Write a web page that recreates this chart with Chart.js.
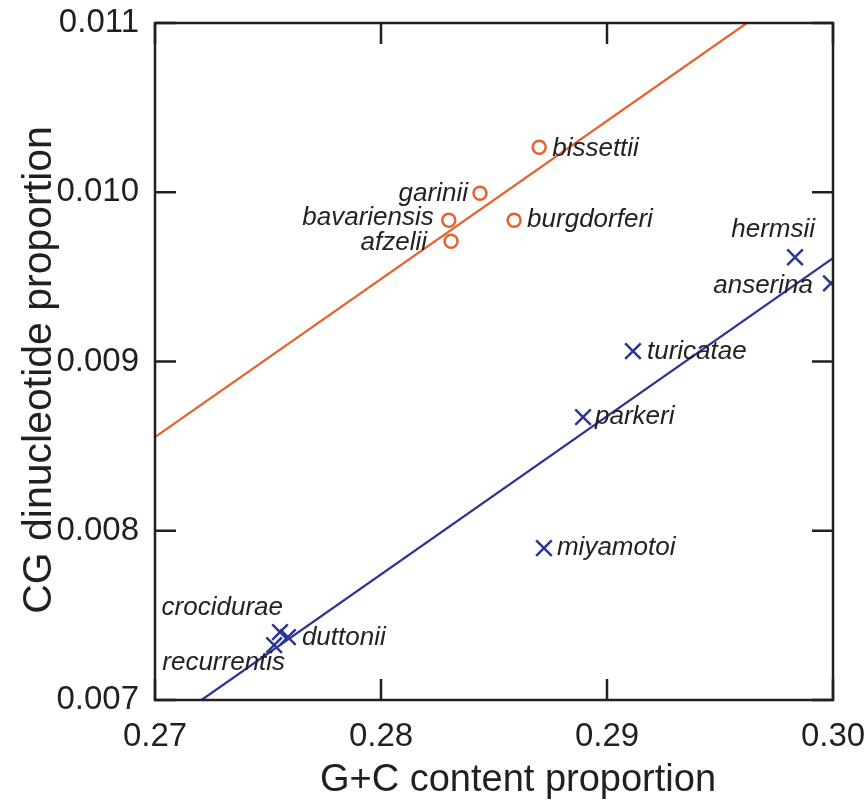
<!DOCTYPE html>
<html>
<head>
<meta charset="utf-8">
<script src="https://cdn.jsdelivr.net/npm/chart.js@4/dist/chart.umd.min.js"></script>
<style>
  html, body { margin: 0; padding: 0; background: #fff; }
  #wrap { width: 867px; height: 804px; }
</style>
</head>
<body>
<div id="wrap"><canvas id="c" width="867" height="804"></canvas></div>
<script>
// ---- data ----
const lymeNames = ['bissettii', 'garinii', 'bavariensis', 'afzelii', 'burgdorferi'];
const lymeGC    = [0.2870, 0.28438, 0.2830, 0.2831, 0.28589];
const lymeCG    = [0.010266, 0.009994, 0.009835, 0.009710, 0.009835];

const rfNames = ['hermsii', 'anserina', 'turicatae', 'parkeri', 'miyamotoi', 'crocidurae', 'duttonii', 'recurrentis'];
const rfGC    = [0.29832, 0.29991, 0.29115, 0.28894, 0.28721, 0.27553, 0.27588, 0.27527];
const rfCG    = [0.009616, 0.009462, 0.009061, 0.008671, 0.007897, 0.007401, 0.007372, 0.007324];

const lymeFitGC = [0.2700, 0.29619];
const lymeFitCG = [0.008553, 0.0110];
const rfFitGC   = [0.27206, 0.3000];
const rfFitCG   = [0.0070, 0.00961];

const xTicks = [0.27, 0.28, 0.29, 0.30];
const yTicks = [0.007, 0.008, 0.009, 0.010, 0.011];

const xTitle = 'G+C content proportion';
const yTitle = 'CG dinucleotide proportion';

// ---- styles / label placement ----
const ORANGE = '#E5622C';
const BLUE = '#2B3594';
const INK = '#231F20';
const FONT = "'Liberation Sans', Arial, Helvetica, sans-serif";

const labelPlace = {
  bissettii:   { dx: 13,  dy: 2,   align: 'left' },
  garinii:     { dx: -12, dy: 1,   align: 'right' },
  bavariensis: { dx: -15, dy: -2,  align: 'right' },
  afzelii:     { dx: -24, dy: 1,   align: 'right' },
  burgdorferi: { dx: 13,  dy: 0,   align: 'left' },
  hermsii:     { dx: 20,  dy: -27, align: 'right' },
  anserina:    { dx: -18, dy: 2,   align: 'right' },
  turicatae:   { dx: 14,  dy: 1,   align: 'left' },
  parkeri:     { dx: 12,  dy: 0,   align: 'left' },
  miyamotoi:   { dx: 13,  dy: 0,   align: 'left' },
  crocidurae:  { dx: 3,   dy: -24, align: 'right' },
  duttonii:    { dx: 14,  dy: 1,   align: 'left' },
  recurrentis: { dx: 11,  dy: 18,  align: 'right' }
};

const toPts = (xs, ys) => xs.map((x, i) => ({ x: x, y: ys[i] }));

const zeroPad = s => { s.paddingLeft = 0; s.paddingRight = 0; s.paddingTop = 0; s.paddingBottom = 0; };

const framePlugin = {
  id: 'frame',
  afterDatasetsDraw(chart) {
    const ctx = chart.ctx;
    const a = chart.chartArea;
    const xs = chart.scales.x, ys = chart.scales.y;
    ctx.save();
    ctx.strokeStyle = INK;
    ctx.lineWidth = 2.5;
    ctx.lineCap = 'butt';
    ctx.strokeRect(a.left, a.top, a.right - a.left, a.bottom - a.top);
    const L = 21;
    ctx.beginPath();
    xTicks.forEach(v => {
      const px = xs.getPixelForValue(v);
      ctx.moveTo(px, a.bottom); ctx.lineTo(px, a.bottom - L);
      ctx.moveTo(px, a.top); ctx.lineTo(px, a.top + L);
    });
    yTicks.forEach(v => {
      const py = ys.getPixelForValue(v);
      ctx.moveTo(a.left, py); ctx.lineTo(a.left + L, py);
      ctx.moveTo(a.right, py); ctx.lineTo(a.right - L, py);
    });
    ctx.stroke();

    // point labels
    ctx.fillStyle = '#222';
    ctx.font = "italic 26px " + FONT;
    ctx.textBaseline = 'middle';
    const drawLabels = (names, gx, cg) => {
      names.forEach((n, i) => {
        const p = labelPlace[n];
        const px = xs.getPixelForValue(gx[i]);
        const py = ys.getPixelForValue(cg[i]);
        ctx.textAlign = p.align;
        ctx.fillText(n, px + p.dx, py + p.dy);
      });
    };
    drawLabels(lymeNames, lymeGC, lymeCG);
    drawLabels(rfNames, rfGC, rfCG);

    // axis titles
    ctx.fillStyle = INK;
    ctx.font = "38px " + FONT;
    ctx.textAlign = 'center';
    ctx.textBaseline = 'alphabetic';
    ctx.fillText(xTitle, 518, 791);
    ctx.save();
    ctx.translate(51, 370);
    ctx.rotate(-Math.PI / 2);
    ctx.font = "41px " + FONT;
    ctx.fillText(yTitle, 0, 0);
    ctx.restore();
    ctx.restore();
  }
};

new Chart(document.getElementById('c'), {
  type: 'scatter',
  data: {
    datasets: [
      {
        label: 'Lyme fit',
        type: 'line',
        data: toPts(lymeFitGC, lymeFitCG),
        borderColor: ORANGE,
        borderWidth: 2.2,
        pointRadius: 0,
        fill: false
      },
      {
        label: 'RF fit',
        type: 'line',
        data: toPts(rfFitGC, rfFitCG),
        borderColor: BLUE,
        borderWidth: 2.2,
        pointRadius: 0,
        fill: false
      },
      {
        label: 'Lyme borreliae',
        data: toPts(lymeGC, lymeCG),
        pointStyle: 'circle',
        pointRadius: 6.5,
        borderWidth: 2.5,
        borderColor: ORANGE,
        backgroundColor: 'rgba(0,0,0,0)'
      },
      {
        label: 'Relapsing fever borreliae',
        data: toPts(rfGC, rfCG),
        pointStyle: 'crossRot',
        pointRadius: 11,
        borderWidth: 2.5,
        borderColor: BLUE,
        backgroundColor: BLUE
      }
    ]
  },
  options: {
    responsive: false,
    animation: false,
    devicePixelRatio: 1,
    layout: { padding: { top: 23, right: 34, left: 0, bottom: 0 } },
    plugins: {
      legend: { display: false },
      tooltip: { enabled: false }
    },
    scales: {
      x: {
        type: 'linear',
        min: 0.27, max: 0.30,
        afterBuildTicks: s => { s.ticks = xTicks.map(v => ({ value: v })); },
        afterFit: s => { s.height = 104; zeroPad(s); },
        grid: { display: false, drawTicks: false },
        border: { display: false },
        ticks: {
          padding: 17,
          color: INK,
          font: { family: FONT, size: 33 },
          maxRotation: 0,
          callback: v => Number(v).toFixed(2)
        }
      },
      y: {
        type: 'linear',
        min: 0.007, max: 0.011,
        afterBuildTicks: s => { s.ticks = yTicks.map(v => ({ value: v })); },
        afterFit: s => { s.width = 155; zeroPad(s); },
        grid: { display: false, drawTicks: false },
        border: { display: false },
        ticks: {
          padding: 16,
          color: INK,
          font: { family: FONT, size: 33 },
          callback: v => Number(v).toFixed(3)
        }
      }
    }
  },
  plugins: [framePlugin]
});
</script>
</body>
</html>
